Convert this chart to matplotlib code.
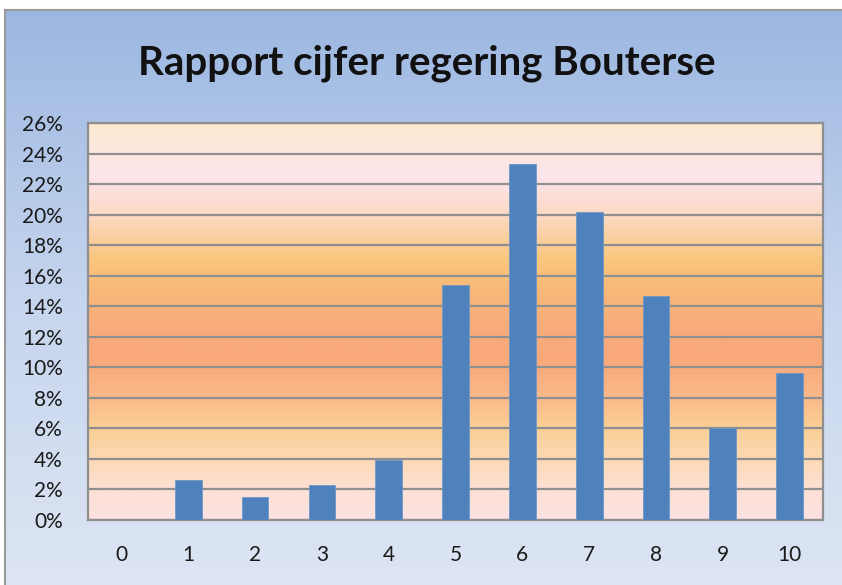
import numpy as np
import matplotlib
matplotlib.use("Agg")
import matplotlib.pyplot as plt
from matplotlib.colors import LinearSegmentedColormap

plt.rcParams["font.family"] = ["Lato", "DejaVu Sans"]

categories = ["0", "1", "2", "3", "4", "5", "6", "7", "8", "9", "10"]
values = [0.0, 2.6, 1.5, 2.3, 3.9, 15.4, 23.3, 20.2, 14.7, 6.0, 9.6]
yticks = list(range(0, 27, 2))
title = "Rapport cijfer regering Bouterse"

W, H = 842, 585
fig = plt.figure(figsize=(W / 100, H / 100), dpi=100)
fig.patch.set_facecolor("white")

# outer chart background (blue gradient)
bg = fig.add_axes([5 / W, 0, 1 - 5 / W, (H - 10) / H], zorder=0)
bg_cmap = LinearSegmentedColormap.from_list("bg", ["#dde5f3", "#c6d5ee", "#9cb7e1"])
grad = np.linspace(0, 1, 256).reshape(-1, 1)
bg.imshow(grad, cmap=bg_cmap, aspect="auto", origin="lower", extent=[0, 1, 0, 1])
bg.set_xlim(0, 1)
bg.set_ylim(0, 1)
bg.set_xticks([])
bg.set_yticks([])
for s in ["right", "bottom"]:
    bg.spines[s].set_visible(False)
for s in ["left", "top"]:
    bg.spines[s].set_color("#9a9a9a")
    bg.spines[s].set_linewidth(1.5)

fig.text(427 / W, 1 - 63 / H, title, ha="center", va="center",
         fontsize=29, fontweight="bold", color="#111111")

ax = fig.add_axes([88 / W, 1 - 520 / H, (823 - 88) / W, (520 - 123) / H], zorder=1)
x = np.arange(len(categories))

stops = [
    (0.0, "#fde2e2"),
    (2.0 / 26, "#fde0d4"),
    (4.0 / 26, "#fcd9b4"),
    (6.0 / 26, "#facf95"),
    (8.0 / 26, "#fbb98a"),
    (10.5 / 26, "#f9a87a"),
    (12.5 / 26, "#f9ab7b"),
    (15.0 / 26, "#f8b878"),
    (17.0 / 26, "#f9c67b"),
    (20.0 / 26, "#fcd9c4"),
    (22.5 / 26, "#fde5ec"),
    (1.0, "#fbeacf"),
]
pcmap = LinearSegmentedColormap.from_list("plot", stops)
ax.imshow(np.linspace(0, 1, 512).reshape(-1, 1), cmap=pcmap, aspect="auto",
          origin="lower", extent=[-0.5, len(categories) - 0.5, 0, 26], zorder=0)

ax.bar(x, values, width=0.4, color="#4f81bd", edgecolor="#6f97c8", linewidth=0.6, zorder=3)

ax.set_xlim(-0.5, len(categories) - 0.5)
ax.set_ylim(0, 26)
ax.set_yticks(yticks)
ax.set_yticklabels([f"{t}%" for t in yticks], fontsize=15, color="#1a1a1a")
ax.set_xticks(x)
ax.set_xticklabels(categories, fontsize=15, color="#1a1a1a")
ax.yaxis.grid(True, color="#8f8f8f", linewidth=1.6, zorder=2)
ax.set_axisbelow(False)
for gl in ax.get_ygridlines():
    gl.set_zorder(2)
ax.tick_params(axis="both", length=0)
ax.tick_params(axis="x", pad=18)
ax.tick_params(axis="y", pad=18)
for s in ax.spines.values():
    s.set_color("#8f8f8f")
    s.set_linewidth(1.6)

fig.savefig("out.png", dpi=100)
